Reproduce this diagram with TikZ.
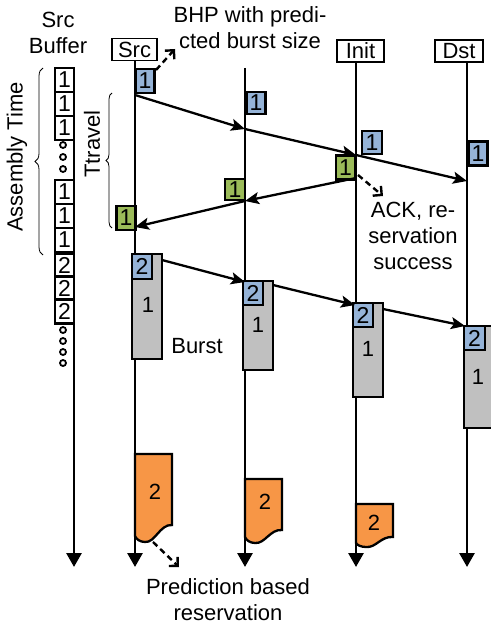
\documentclass[tikz,border=0pt]{standalone}
\usepackage{fontspec}
\setmainfont{Liberation Sans}
\usetikzlibrary{arrows.meta,decorations.pathreplacing}

\definecolor{pktblue}{HTML}{95B3D7}
\definecolor{ackgreen}{HTML}{9BBB59}
\definecolor{burstgray}{HTML}{C0C0C0}
\definecolor{predorange}{HTML}{F79646}

\begin{document}
\begin{tikzpicture}[x=1pt,y=-1pt,
  font=\fontsize{22}{26}\selectfont,
  timeline/.style={line width=2.8pt,-{Triangle[width=15pt,length=14pt]}},
  msg/.style={line width=2.3pt,-{Stealth[width=12pt,length=14pt,inset=3pt]}},
  note/.style={line width=2.4pt,dash pattern=on 6pt off 4pt,-{Straight Barb[angle=90:9pt]}},
  hdr/.style={draw,line width=1.4pt,inner sep=0pt,minimum height=22pt,fill=white},
  cell/.style={draw,line width=2.3pt,inner sep=0pt,minimum width=19pt,minimum height=24pt,
    font=\fontsize{23}{23}\selectfont},
  pkt/.style={cell,fill=pktblue},
  ackpkt/.style={cell,fill=ackgreen},
  buf/.style={cell,fill=white},
  burst/.style={draw,line width=2.3pt,fill=burstgray},
  pred/.style={draw,line width=2.3pt,fill=predorange},
  dot/.style={draw,line width=1.8pt,fill=white},
  brc/.style={draw,line width=0.8pt,decorate},
  lbl/.style={align=center,inner sep=0pt}]
\useasboundingbox (0,0) rectangle (490,631);

% headers
\node[hdr,minimum width=45pt] (hsrc) at (134.5,49.5) {Src};
\node[hdr,minimum width=47pt] (hinit) at (360.5,51) {Init};
\node[hdr,minimum width=48pt] (hdst) at (459,51) {Dst};

% timeline ends
\coordinate (tbuf0) at (74,68);   \coordinate (tbuf1) at (74,567);
\coordinate (tsrc0) at (135,61);  \coordinate (tsrc1) at (135,567);
\coordinate (tmid0) at (245,68);  \coordinate (tmid1) at (245,567);
\coordinate (tini0) at (356,62);  \coordinate (tini1) at (356,567);
\coordinate (tdst0) at (467,62);  \coordinate (tdst1) at (467,567);
\draw[timeline] (tbuf0) -- (tbuf1);
\draw[timeline] (tsrc0) -- (tsrc1);
\draw[timeline] (tmid0) -- (tmid1);
\draw[timeline] (tini0) -- (tini1);
\draw[timeline] (tdst0) -- (tdst1);

% source buffer
\node[lbl] (buftitle) at (58,33) {Src\\Buffer};
\node[buf] (b1) at (64.5,80) {1};
\node[buf] (b2) at (64.5,104) {1};
\node[buf] (b3) at (64.5,128) {1};
\node[buf] (b4) at (64.5,192) {1};
\node[buf] (b5) at (64.5,216) {1};
\node[buf] (b6) at (64.5,240) {1};
\node[buf] (b7) at (64.5,265.5) {2};
\node[buf] (b8) at (64.5,288.5) {2};
\node[buf] (b9) at (64.5,311.5) {2};
\foreach \yy in {145,157,169,330,341,352,363}
  \path[dot] (63,\yy) circle (3pt);

% braces
\path[brc,decoration={brace,amplitude=8pt}] (43,255) -- (43,68);
\node[lbl,rotate=90] (asm) at (17,157) {Assembly Time};
\path[brc,decoration={brace,amplitude=6pt}] (112,228) -- (112,93);
\node[lbl,rotate=90] (trv) at (92,144) {Ttravel};

% burst header packets
\node[pkt] (p0) at (145,81) {1};
\node[pkt,minimum height=22pt] (p1) at (256,103) {1};
\node[pkt,minimum width=20pt,minimum height=23pt] (p2) at (372,142.5) {1};
\node[pkt] (p3) at (478,153.5) {1};
\coordinate (m0) at (135,95);
\coordinate (m1) at (245,129);
\coordinate (m2) at (356,155);
\coordinate (m3) at (467,181);
\draw[msg] (m0) -- (m1);
\draw[msg] (m1) -- (m2);
\draw[msg] (m2) -- (m3);

% acknowledgements
\node[ackpkt] (a2) at (345.5,167.5) {1};
\node[ackpkt,minimum width=20pt,minimum height=21pt] (a1) at (235,189.5) {1};
\node[ackpkt] (a0) at (126,218) {1};
\coordinate (k2) at (356,178);
\coordinate (k1) at (245,201);
\coordinate (k0) at (135,227);
\draw[msg] (k2) -- (k1);
\draw[msg] (k1) -- (k0);

% bursts
\draw[burst] (132,254) rectangle (162,359);
\draw[burst] (243,281) rectangle (273,370);
\draw[burst] (353,303) rectangle (383,397);
\draw[burst] (464,326) rectangle (494,428);
\node[inner sep=0pt] (u0) at (148,305) {1};
\node[inner sep=0pt] (u1) at (258,325) {1};
\node[inner sep=0pt] (u2) at (368,349) {1};
\node[inner sep=0pt] (u3) at (478,377) {1};
\node[pkt,minimum width=20pt,minimum height=25pt] (q0) at (142,266.5) {2};
\node[pkt,minimum width=20pt] (q1) at (253,293) {2};
\node[pkt,minimum width=20pt] (q2) at (363,315) {2};
\node[pkt,minimum width=21pt] (q3) at (474.5,338) {2};
\coordinate (r0) at (162,260);
\coordinate (r1) at (245,282);
\coordinate (r1b) at (273,285);
\coordinate (r2) at (355,305);
\coordinate (r2b) at (383,309);
\coordinate (r3) at (465,326);
\draw[msg] (r0) -- (r1);
\draw[msg] (r1b) -- (r2);
\draw[msg] (r2b) -- (r3);
\node[lbl] (burstlbl) at (197,346) {Burst};

% prediction based reservations
\draw[pred] (135,454) -- (172,454) -- (172,525)
  .. controls (160,524) and (155,543) .. (145,542)
  .. controls (140,542) and (136,539) .. (135,536) -- cycle;
\draw[pred] (245,479) -- (282,479) -- (282,530)
  .. controls (270,529) and (265,544) .. (255,543)
  .. controls (250,543) and (246,540) .. (245,537) -- cycle;
\draw[pred] (356,504) -- (393,504) -- (393,537)
  .. controls (381,536) and (376,548) .. (366,547)
  .. controls (361,547) and (357,545) .. (356,543) -- cycle;
\node[inner sep=0pt] (o0) at (155,492) {2};
\node[inner sep=0pt] (o1) at (265,502) {2};
\node[inner sep=0pt] (o2) at (374,523) {2};

% annotations
\node[lbl] (bhplbl) at (250,28) {BHP with predi-\\cted burst size};
\coordinate (n0a) at (156,70);  \coordinate (n0b) at (175,49);
\draw[note] (n0a) -- (n0b);
\node[lbl] (acklbl) at (413,236) {ACK, re-\\servation\\success};
\coordinate (n1a) at (358,175); \coordinate (n1b) at (383,196);
\draw[note] (n1a) -- (n1b);
\node[lbl] (predlbl) at (228,600) {Prediction based\\reservation};
\coordinate (n2a) at (153,542); \coordinate (n2b) at (179,567);
\draw[note] (n2a) -- (n2b);
\end{tikzpicture}
\end{document}
